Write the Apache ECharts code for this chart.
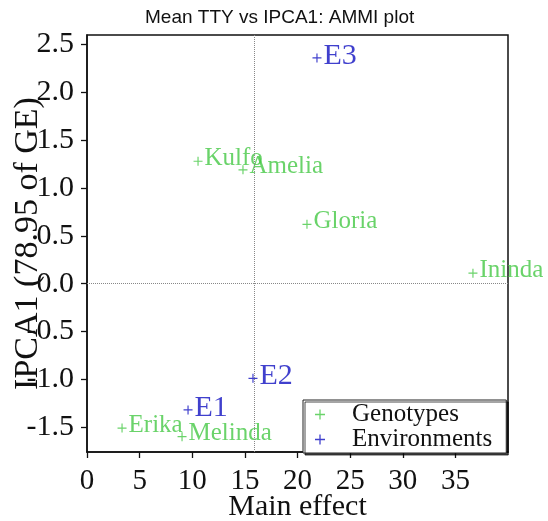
<!DOCTYPE html>
<html>
<head>
<meta charset="utf-8">
<script src="https://cdn.jsdelivr.net/npm/echarts@6/dist/echarts.min.js"></script>
<style>html,body{margin:0;padding:0;background:#fff}#chart{width:548px;height:521px}</style>
</head>
<body>
<div id="chart"></div>
<script>
// ---- data ----
var genotypeNames = ['Kulfo', 'Amelia', 'Gloria', 'Ininda', 'Erika', 'Melinda'];
var genotypeMain = [10.55, 14.82, 20.9, 36.67, 3.33, 9.03];
var genotypeIPCA1 = [1.28, 1.19, 0.62, 0.11, -1.51, -1.60];
var envNames = ['E1', 'E2', 'E3'];
var envMain = [9.6, 15.77, 21.85];
var envIPCA1 = [-1.32, -0.99, 2.36];
var grandMean = 15.87;
var xTicks = [0, 5, 10, 15, 20, 25, 30, 35];
var yTicks = [-1.5, -1.0, -0.5, 0.0, 0.5, 1.0, 1.5, 2.0, 2.5];

var serif = '"Liberation Serif", "DejaVu Serif", serif';
var plus = 'path://M0,4.35h10v1.3h-10z M4.35,0h1.3v10h-1.3z';
var green = '#45c845';
var blue = '#1010c0';

function pts(xs, ys, names) {
  return names.map(function (n, i) { return { name: n, value: [xs[i], ys[i]] }; });
}

var chart = echarts.init(document.getElementById('chart'), null, { renderer: 'canvas' });
chart.setOption({
  animation: false,
  backgroundColor: '#fff',
  title: {
    text: 'Mean TTY vs IPCA1: AMMI plot',
    left: 140, top: 3,
    textStyle: { fontFamily: '"Liberation Sans", Arial, sans-serif', fontSize: 19, fontWeight: 'normal', color: '#111' }
  },
  grid: { left: 87, right: 40, top: 35, bottom: 69, show: true, borderColor: '#111', borderWidth: 1.5,
    backgroundColor: 'transparent', containLabel: false, outerBoundsMode: 'none' },
  xAxis: {
    type: 'value', min: 0, max: 40,
    name: 'Main effect', nameLocation: 'middle', nameGap: 40,
    nameTextStyle: { fontFamily: serif, fontSize: 30, color: '#111' },
    nameMoveOverlap: false,
    axisLine: { show: true, onZero: false, lineStyle: { color: '#111', width: 1.5 } },
    axisTick: { show: true, inside: false, length: 6, customValues: xTicks, lineStyle: { color: '#111', width: 1.3 } },
    axisLabel: { customValues: xTicks, margin: 15, fontFamily: serif, fontSize: 29, color: '#111' },
    splitLine: { show: false }
  },
  yAxis: {
    type: 'value', min: -1.76, max: 2.6,
    name: 'IPCA1 (78.95 of GE)', nameLocation: 'middle', nameGap: 42, nameRotate: 90,
    nameTextStyle: { fontFamily: serif, fontSize: 34, color: '#111' },
    nameMoveOverlap: false,
    axisLine: { show: true, onZero: false, lineStyle: { color: '#111', width: 1.5 } },
    axisTick: { show: true, inside: false, length: 6, customValues: yTicks, lineStyle: { color: '#111', width: 1.3 } },
    axisLabel: { customValues: yTicks, margin: 13, fontFamily: serif, fontSize: 30, color: '#111',
      formatter: function (v) { return v.toFixed(1); } },
    splitLine: { show: false }
  },
  legend: {
    orient: 'vertical', left: 303, top: 400,
    padding: [2, 14, 1, 12], itemGap: 0, itemWidth: 10, itemHeight: 10,
    backgroundColor: '#fff', borderColor: '#222', borderWidth: 1,
    shadowColor: 'rgba(0,0,0,0.7)', shadowOffsetX: 2, shadowOffsetY: 2, shadowBlur: 0,
    textStyle: { fontFamily: serif, fontSize: 25, lineHeight: 21, color: '#111', padding: [0, 0, 0, 22] },
    data: [{ name: 'Genotypes', icon: plus }, { name: 'Environments', icon: plus }]
  },
  series: [
    {
      name: 'Genotypes', type: 'scatter', symbol: plus, symbolSize: 9,
      itemStyle: { color: green },
      data: pts(genotypeMain, genotypeIPCA1, genotypeNames),
      label: { show: true, position: 'right', distance: 2, offset: [0, -3], formatter: '{b}',
        fontFamily: serif, fontSize: 25, color: green },
      markLine: {
        silent: true, symbol: ['none', 'none'], label: { show: false },
        lineStyle: { type: 'dotted', color: '#888', width: 1 },
        data: [{ xAxis: grandMean }, { yAxis: 0 }]
      },
      z: 3
    },
    {
      name: 'Environments', type: 'scatter', symbol: plus, symbolSize: 9,
      itemStyle: { color: blue },
      data: pts(envMain, envIPCA1, envNames),
      label: { show: true, position: 'right', distance: 2, offset: [0, -2], formatter: '{b}',
        fontFamily: serif, fontSize: 30, color: blue },
      z: 3
    }
  ]
});
</script>
</body>
</html>
